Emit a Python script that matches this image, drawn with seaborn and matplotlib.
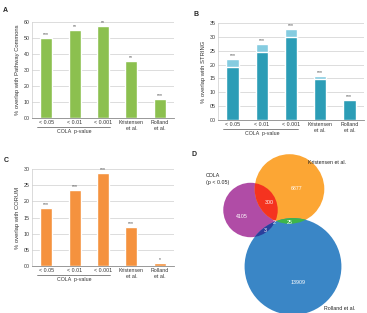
import matplotlib
matplotlib.use("Agg")
import matplotlib.pyplot as plt
import matplotlib.transforms as mtransforms
from matplotlib.patches import Circle
import seaborn as sns
import numpy as np

sns.set_style("white")
plt.rcParams['font.family'] = ['Liberation Sans', 'DejaVu Sans']

# ---------------- data ----------------
categories = ["< 0.05", "< 0.01", "< 0.001", "Kristensen\net al.", "Rolland\net al."]
pathway_vals = [50.3, 54.8, 57.5, 35.8, 12.0]
pathway_stars = ["***", "**", "**", "**", "***"]
string_total = [22.0, 27.5, 32.9, 15.9, 7.2]
string_core = [19.1, 24.7, 30.0, 14.7, 7.2]
string_stars = ["***", "***", "***", "***", "***"]
corum_vals = [17.9, 23.6, 28.8, 12.1, 0.9]
corum_stars = ["***", "***", "***", "***", "*"]
ticks_a = [0, 10, 20, 30, 40, 50, 60]
ticks_b = [0, 5, 10, 15, 20, 25, 30, 35]
ticks_c = [0, 5, 10, 15, 20, 25, 30]

venn_only = {"COLA": 4105, "Kristensen": 6877, "Rolland": 13909}
venn_pair = {"COLA&Kristensen": 300, "Kristensen&Rolland": 25, "COLA&Rolland": 3}
venn_triple = 2

W, H = 367, 313
fig = plt.figure(figsize=(W / 100, H / 100), dpi=100)


def rect(l, r, t, b):
    return [l / W, 1 - b / H, (r - l) / W, (b - t) / H]


TICK_FS = 3.8
LAB_FS = 4.2
GRID_C = "#cfcfcf"
TXT_C = "#333333"


def style_axes(ax, ticks, ylabel):
    ax.set_xlim(-0.5, 4.5)
    ax.set_ylim(0, ticks[-1])
    ax.set_yticks(ticks)
    ax.set_yticklabels([f"{t:02d}" for t in ticks], fontsize=TICK_FS, color=TXT_C)
    ax.set_xticks(range(len(categories)))
    ax.set_xticklabels(categories, fontsize=TICK_FS, color=TXT_C, linespacing=1.2)
    ax.tick_params(axis="both", length=0, pad=1.5)
    ax.set_xlabel("")
    ax.set_ylabel(ylabel, fontsize=LAB_FS, color=TXT_C, labelpad=3)
    ax.yaxis.grid(True, color=GRID_C, lw=0.5)
    ax.set_axisbelow(True)
    for s in ["top", "right"]:
        ax.spines[s].set_visible(False)
    ax.spines["left"].set_color("#cccccc")
    ax.spines["left"].set_linewidth(0.5)
    ax.spines["bottom"].set_color("#888888")
    ax.spines["bottom"].set_linewidth(0.6)
    tr = mtransforms.blended_transform_factory(ax.transData, ax.transAxes)
    h_px = ax.get_position().height * H
    y_line = -9.0 / h_px
    ax.plot([-0.32, 2.25], [y_line, y_line], transform=tr, color="#555555",
            lw=0.5, clip_on=False)
    ax.text(1.0, -13.5 / h_px, "COLA  p-value", transform=tr, fontsize=TICK_FS,
            ha="center", va="center", color=TXT_C)


def add_stars(ax, vals, stars, off):
    for i, (v, s) in enumerate(zip(vals, stars)):
        ax.text(i, v + off, s, ha="center", va="bottom", fontsize=3.6, color="#444444")


BAR_W = 0.42

# Panel A
axA = fig.add_axes(rect(32, 174, 22, 118))
sns.barplot(x=categories, y=pathway_vals, color="#8cc04f", saturation=1,
            width=BAR_W, ax=axA)
style_axes(axA, ticks_a, "% overlap with Pathway Commons")
add_stars(axA, pathway_vals, pathway_stars, 0.5)

# Panel B
axB = fig.add_axes(rect(218, 364, 23, 120))
sns.barplot(x=categories, y=string_total, color="#85cce0", saturation=1,
            width=BAR_W, ax=axB)
sns.barplot(x=categories, y=string_core, color="#2c9db6", saturation=1,
            width=BAR_W, ax=axB)
style_axes(axB, ticks_b, "% overlap with STRING")
add_stars(axB, string_total, string_stars, 0.3)

# Panel C
axC = fig.add_axes(rect(32, 174, 169, 266))
sns.barplot(x=categories, y=corum_vals, color="#f5923e", saturation=1,
            width=BAR_W, ax=axC)
style_axes(axC, ticks_c, "% overlap with CORUM")
add_stars(axC, corum_vals, corum_stars, 0.25)

# Panel D (Venn)
axD = fig.add_axes([184 / W, 0, (W - 184) / W, (H - 150) / H])
axD.set_xlim(184, 367)
axD.set_ylim(313, 150)
axD.axis("off")

tot_cola = venn_only["COLA"] + venn_pair["COLA&Kristensen"] + venn_pair["COLA&Rolland"] + venn_triple
tot_kris = venn_only["Kristensen"] + venn_pair["COLA&Kristensen"] + venn_pair["Kristensen&Rolland"] + venn_triple
tot_roll = venn_only["Rolland"] + venn_pair["Kristensen&Rolland"] + venn_pair["COLA&Rolland"] + venn_triple
k = 0.41
r_cola, r_kris, r_roll = (k * np.sqrt(t) for t in (tot_cola, tot_kris, tot_roll))
c_cola, c_kris, c_roll = (250.5, 210.0), (289.5, 189.0), (293.0, 266.5)

cp = Circle(c_cola, r_cola, fc="#b04ca6", ec="none")
kp = Circle(c_kris, r_kris, fc="#fca634", ec="none")
rp = Circle(c_roll, r_roll, fc="#3a86c6", ec="none")
for p in (cp, kp, rp):
    axD.add_patch(p)
# intersections
ck = Circle(c_kris, r_kris, fc="#f5331f", ec="none")
axD.add_patch(ck)
ck.set_clip_path(cp)
kr = Circle(c_roll, r_roll, fc="#3db54a", ec="none")
axD.add_patch(kr)
kr.set_clip_path(kp)
cr = Circle(c_roll, r_roll, fc="#2b3f9c", ec="none")
axD.add_patch(cr)
cr.set_clip_path(cp)

VFS = 3.8
wt = dict(color="white", fontsize=VFS, ha="center", va="center")
axD.text(242, 216, f"{venn_only['COLA']}", **wt)
axD.text(269, 203, f"{venn_pair['COLA&Kristensen']}", **wt)
axD.text(297, 189, f"{venn_only['Kristensen']}", **wt)
axD.text(290, 223, f"{venn_pair['Kristensen&Rolland']}", **wt)
axD.text(274, 223, f"{venn_triple}", **wt)
axD.text(265, 230, f"{venn_pair['COLA&Rolland']}", **wt)
axD.text(298, 283, f"{venn_only['Rolland']}", **wt)
dk = dict(color="#222222", fontsize=VFS)
axD.text(308, 162, "Kristensen et al.", ha="left", va="center", **dk)
axD.text(206, 179, "COLA\n(p < 0.05)", ha="left", va="center", linespacing=1.4, **dk)
axD.text(324, 308, "Rolland et al.", ha="left", va="center", **dk)

# panel letters
for x, y, s in [(3, 10, "A"), (194, 14, "B"), (4, 161, "C"), (192, 155, "D")]:
    fig.text(x / W, 1 - y / H, s, fontsize=5, fontweight="bold", ha="left", va="center")

fig.savefig("out.png", dpi=100)
